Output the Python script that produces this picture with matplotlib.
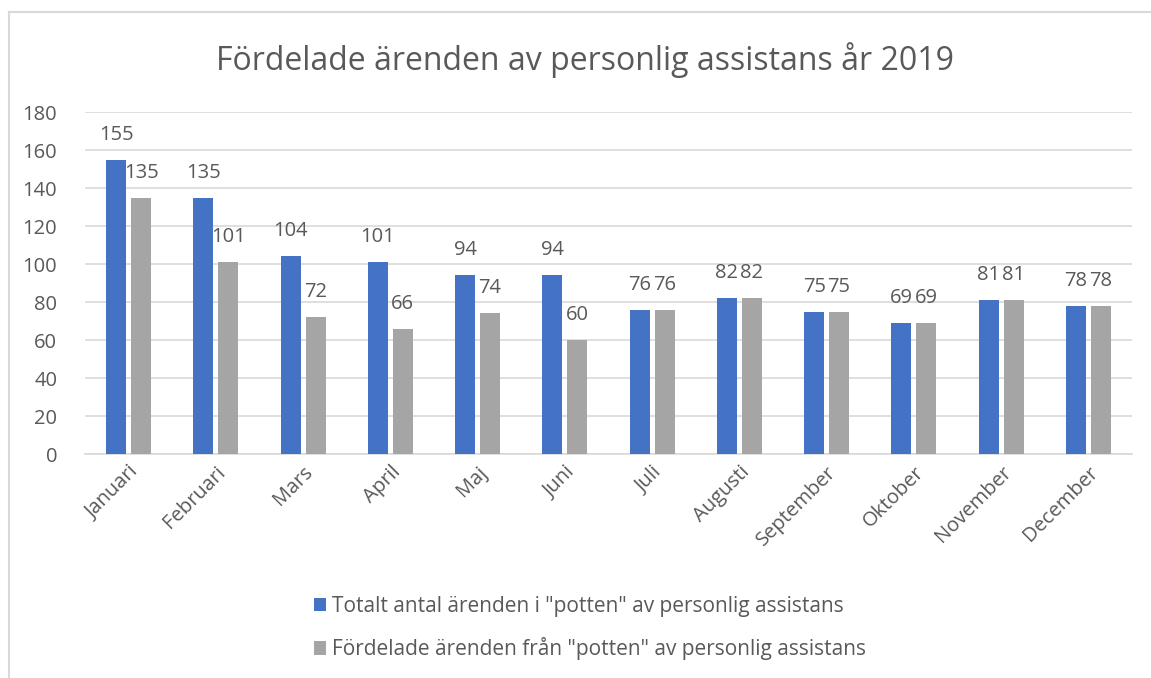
import matplotlib
matplotlib.use("Agg")
import matplotlib.pyplot as plt
import numpy as np
from matplotlib.patches import Patch
from matplotlib.lines import Line2D

months = ["Januari", "Februari", "Mars", "April", "Maj", "Juni", "Juli",
          "Augusti", "September", "Oktober", "November", "December"]
totalt = [155, 135, 104, 101, 94, 94, 76, 82, 75, 69, 81, 78]
fordelade = [135, 101, 72, 66, 74, 60, 76, 82, 75, 69, 81, 78]
yticks = [0, 20, 40, 60, 80, 100, 120, 140, 160, 180]
title = "Fördelade ärenden av personlig assistans år 2019"
series_names = ['Totalt antal ärenden i "potten" av personlig assistans',
                'Fördelade ärenden från "potten" av personlig assistans']

BLUE = "#4472C4"
GRAY = "#A5A5A5"
TXT = "#595959"
GRID = "#D9D9D9"

plt.rcParams['font.family'] = ['Open Sans', 'DejaVu Sans']

W, H = 1151, 678
fig = plt.figure(figsize=(W / 100, H / 100), dpi=100)
ax = fig.add_axes([85 / W, 1 - 454 / H, (1132 - 85) / W, (454 - 112) / H])

x = np.arange(len(months))
bw = 0.23
off = 0.143
b1 = ax.bar(x - off, totalt, bw, color=BLUE, zorder=3)
b2 = ax.bar(x + off, fordelade, bw, color=GRAY, zorder=3)

for bars, vals in ((b1, totalt), (b2, fordelade)):
    for r, v in zip(bars, vals):
        ax.annotate(str(v), (r.get_x() + r.get_width() / 2, v),
                    xytext=(0, 25), textcoords='offset pixels',
                    ha='center', va='center', fontsize=14.5, color=TXT)

ax.set_xlim(-0.5, len(months) - 0.5)
ax.set_ylim(0, 180)
ax.set_yticks(yticks)
ax.set_yticklabels([str(t) for t in yticks], fontsize=14.5, color=TXT)
ax.yaxis.grid(True, color=GRID, linewidth=1.2, zorder=0)
ax.set_axisbelow(True)
ax.tick_params(axis='y', length=0, pad=20)
ax.tick_params(axis='x', length=0, pad=6)
ax.set_xticks(x)
ax.set_xticklabels(months, rotation=45, ha='right', rotation_mode='anchor',
                   fontsize=14.5, color=TXT)
for s in ['top', 'right', 'left']:
    ax.spines[s].set_visible(False)
ax.spines['bottom'].set_color(GRID)
ax.spines['bottom'].set_linewidth(1.2)

fig.text(585 / W, 1 - 60 / H, title, ha='center', va='center',
         fontsize=23, color=TXT)

handles = [Patch(facecolor=BLUE, edgecolor='none'),
           Patch(facecolor=GRAY, edgecolor='none')]
leg = fig.legend(handles, series_names, loc='center',
                 bbox_to_anchor=(590 / W, 1 - 628 / H), ncol=1, frameon=False,
                 fontsize=15, handlelength=0.6, handleheight=0.6,
                 handletextpad=0.3, labelspacing=1.0)
for t in leg.get_texts():
    t.set_color(TXT)

# outer chart border (cropped at right/bottom)
fig.add_artist(Line2D([9 / W, 9 / W], [0, 1 - 12 / H], transform=fig.transFigure,
                      color=GRID, linewidth=1.5))
fig.add_artist(Line2D([9 / W, 1], [1 - 12 / H, 1 - 12 / H], transform=fig.transFigure,
                      color=GRID, linewidth=1.5))

fig.savefig("out.png", dpi=100, facecolor="white")
